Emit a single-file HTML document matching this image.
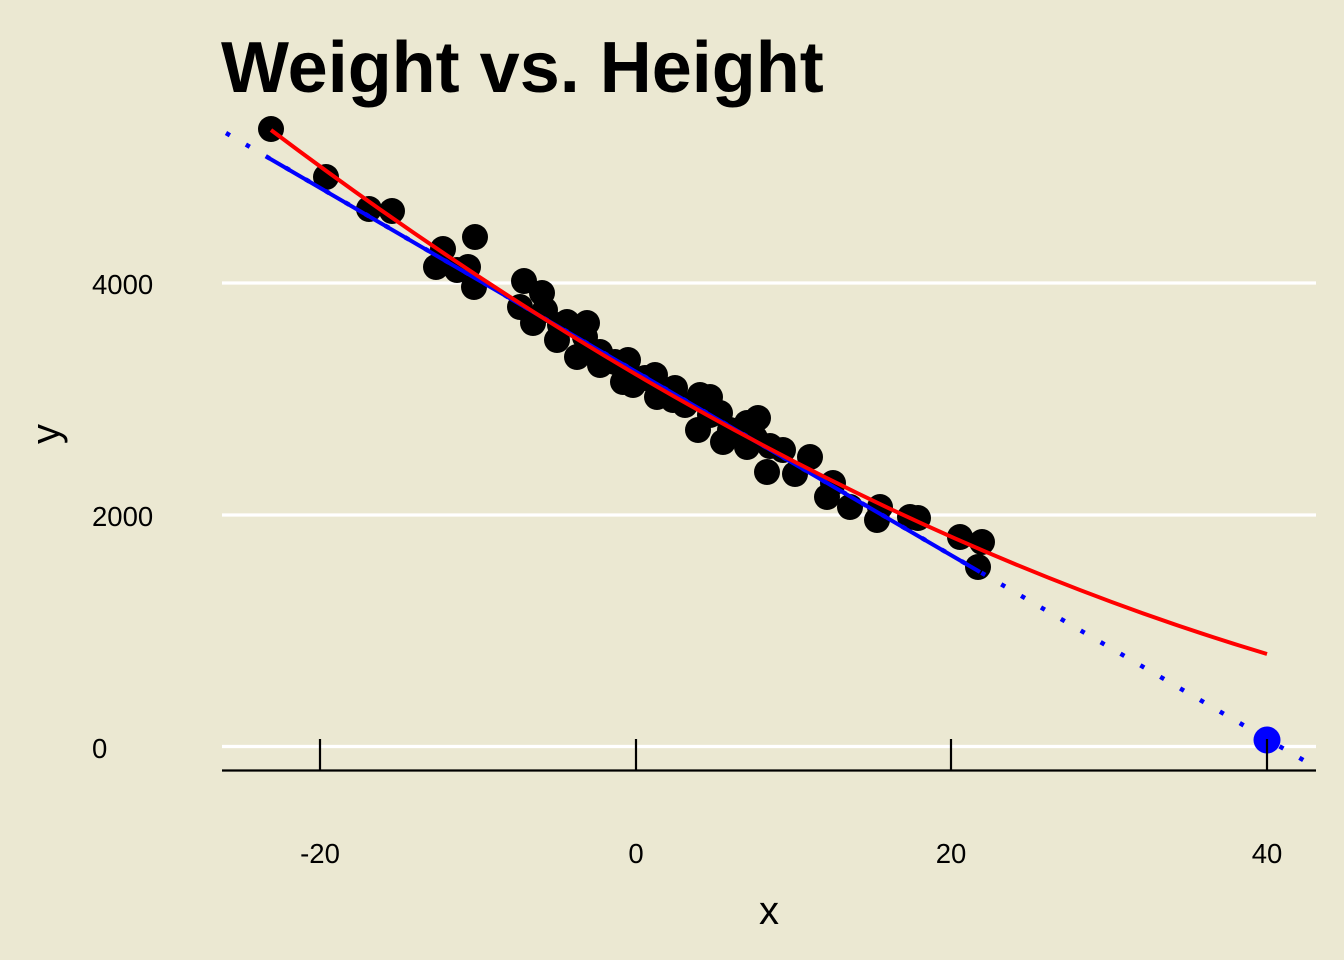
<!DOCTYPE html>
<html><head><meta charset="utf-8"><style>
html,body{margin:0;padding:0;background:#EBE8D2;}
svg{display:block;}
</style></head><body>
<svg width="1344" height="960" viewBox="0 0 1344 960" xmlns="http://www.w3.org/2000/svg">
<rect width="1344" height="960" fill="#EBE8D2"/>
<g stroke="#ffffff" stroke-width="3.2">
<line x1="222" y1="283" x2="1316" y2="283"/>
<line x1="222" y1="515" x2="1316" y2="515"/>
<line x1="222" y1="746.5" x2="1316" y2="746.5"/>
</g>
<g fill="#000">
<circle cx="271" cy="129" r="13"/><circle cx="326" cy="177" r="13"/><circle cx="369" cy="209" r="13"/><circle cx="392" cy="211" r="13"/>
<circle cx="443" cy="249" r="13"/><circle cx="475" cy="237" r="13"/><circle cx="436" cy="267" r="13"/><circle cx="457" cy="270" r="13"/>
<circle cx="468" cy="267" r="13"/><circle cx="474" cy="287" r="13"/><circle cx="524" cy="281" r="13"/><circle cx="520" cy="307" r="13"/>
<circle cx="542" cy="293" r="13"/><circle cx="533" cy="323" r="13"/><circle cx="545" cy="310" r="13"/><circle cx="560" cy="325" r="13"/>
<circle cx="567" cy="322" r="13"/><circle cx="587" cy="323" r="13"/><circle cx="557" cy="340" r="13"/><circle cx="577" cy="357" r="13"/>
<circle cx="585" cy="337" r="13"/><circle cx="600" cy="352" r="13"/><circle cx="600" cy="365" r="13"/><circle cx="628" cy="360" r="13"/>
<circle cx="623" cy="382" r="13"/><circle cx="633" cy="385" r="13"/><circle cx="615" cy="362" r="13"/><circle cx="645" cy="378" r="13"/>
<circle cx="655" cy="375" r="13"/><circle cx="657" cy="397" r="13"/><circle cx="673" cy="400" r="13"/><circle cx="675" cy="388" r="13"/>
<circle cx="665" cy="390" r="13"/><circle cx="700" cy="395" r="13"/><circle cx="710" cy="397" r="13"/><circle cx="685" cy="405" r="13"/>
<circle cx="720" cy="413" r="13"/><circle cx="710" cy="415" r="13"/><circle cx="698" cy="430" r="13"/><circle cx="723" cy="442" r="13"/>
<circle cx="730" cy="430" r="13"/><circle cx="747" cy="423" r="13"/><circle cx="758" cy="418" r="13"/><circle cx="747" cy="447" r="13"/>
<circle cx="770" cy="446" r="13"/><circle cx="783" cy="450" r="13"/><circle cx="767" cy="472" r="13"/><circle cx="810" cy="457" r="13"/>
<circle cx="795" cy="474" r="13"/><circle cx="833" cy="483" r="13"/><circle cx="827" cy="497" r="13"/><circle cx="850" cy="507" r="13"/>
<circle cx="880" cy="507" r="13"/><circle cx="877" cy="520" r="13"/><circle cx="910" cy="517" r="13"/><circle cx="918" cy="518" r="13"/>
<circle cx="960" cy="537" r="13"/><circle cx="982" cy="542" r="13"/><circle cx="978" cy="567" r="13"/>
<circle cx="755" cy="438" r="13"/><circle cx="740" cy="435" r="13"/>
</g>
<line x1="226" y1="133" x2="1316" y2="767.5" stroke="#0000ff" stroke-width="4.5" stroke-dasharray="4.5 18.5"/>
<line x1="267" y1="157" x2="980" y2="572" stroke="#0000ff" stroke-width="4"/>
<path d="M271 130 Q769 504.9 1267 654" fill="none" stroke="#ff0000" stroke-width="4"/>
<circle cx="1267" cy="740" r="13.5" fill="#0000ff"/>
<line x1="222" y1="770.5" x2="1316" y2="770.5" stroke="#000" stroke-width="2.2"/>
<g stroke="#000" stroke-width="2.2">
<line x1="320" y1="739" x2="320" y2="770"/>
<line x1="636" y1="739" x2="636" y2="770"/>
<line x1="951" y1="739" x2="951" y2="770"/>
<line x1="1267" y1="739" x2="1267" y2="770"/>
</g>
<g font-family="Liberation Sans, sans-serif" fill="#000">
<text x="221" y="92" font-size="72" font-weight="bold">Weight vs. Height</text>
<text x="92" y="294" font-size="27.5">4000</text>
<text x="92" y="526" font-size="27.5">2000</text>
<text x="92" y="758" font-size="27.5">0</text>
<g font-size="27.5" text-anchor="middle">
<text x="320" y="863">-20</text>
<text x="636" y="863">0</text>
<text x="951" y="863">20</text>
<text x="1267" y="863">40</text>
</g>
<text x="769" y="924" font-size="40" text-anchor="middle">x</text>
<text transform="translate(59,434) rotate(-90)" font-size="40" text-anchor="middle">y</text>
</g>
</svg>
</body></html>
